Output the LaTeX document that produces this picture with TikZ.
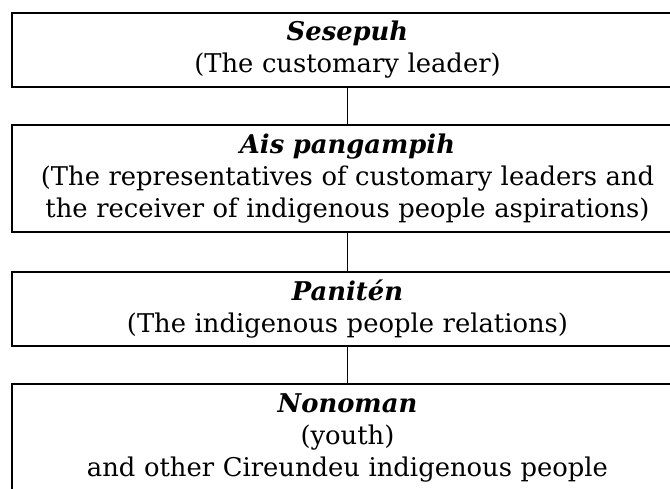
\documentclass[tikz,border=0pt]{standalone}
\usepackage{fontspec}
\setmainfont{DejaVu Serif}

\begin{document}
\begin{tikzpicture}[x=1pt, y=-1pt,
    rank/.style={draw, line width=1.5pt, inner sep=0pt, minimum width=671pt,
      text width=665pt, align=center, font=\fontsize{25.8pt}{32pt}\selectfont},
    link/.style={line width=1.1pt}]
             \useasboundingbox (0,0) rectangle (670,488);

             \node[rank, minimum height=74pt] (sesepuh) at (347.5, 50)
               {\textbf{\textit{Sesepuh}}\\(The customary leader)};
             \node[rank, minimum height=107pt] (ais) at (347.5, 178.5)
               {\textbf{\textit{Ais pangampih}}\\(The representatives of customary leaders and\\the receiver of indigenous people aspirations)};
             \node[rank, minimum height=74pt] (paniten) at (347.5, 309)
               {\textbf{\textit{Panitén}}\\(The indigenous people relations)};
             \node[rank, minimum height=108pt] (nonoman) at (347.5, 438)
               {\textbf{\textit{Nonoman}}\\(youth)\\and other Cireundeu indigenous people};

             \draw[link] (sesepuh) -- (ais);
             \draw[link] (ais) -- (paniten);
             \draw[link] (paniten) -- (nonoman);
\end{tikzpicture}
\end{document}
